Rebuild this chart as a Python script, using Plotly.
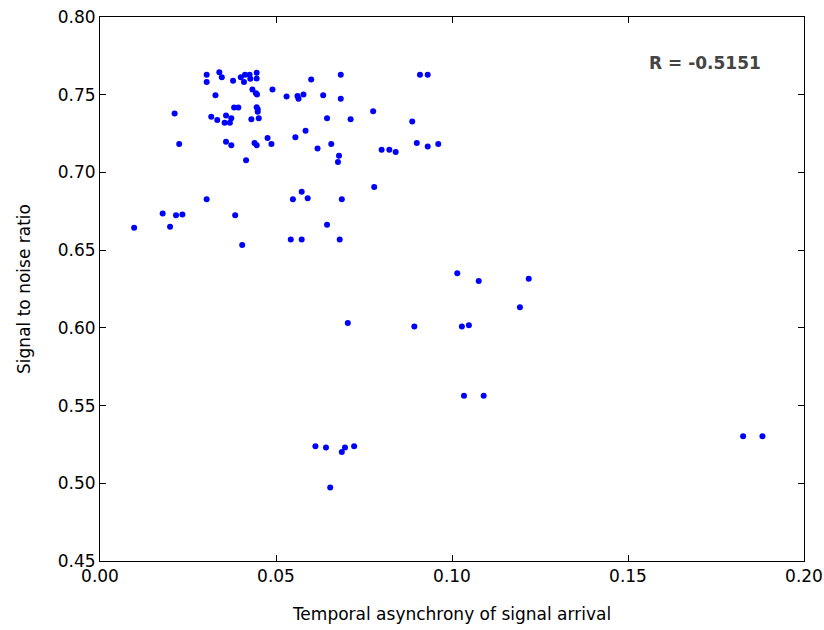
import plotly.graph_objects as go

asynchrony = [
    0.0303, 0.0303, 0.0339, 0.0346, 0.0328, 0.0378, 0.0400, 0.0412, 0.0409, 0.0425,
    0.0427, 0.0445, 0.0445, 0.0433, 0.0443, 0.0446, 0.0490, 0.0530, 0.0561, 0.0564,
    0.0578, 0.0600, 0.0684, 0.0634, 0.0684, 0.0776, 0.0909, 0.0931, 0.0212, 0.0316,
    0.0358, 0.0333, 0.0354, 0.0369, 0.0373, 0.0381, 0.0393, 0.0430, 0.0445, 0.0448,
    0.0448, 0.0451, 0.0645, 0.0712, 0.0887, 0.0584, 0.0225, 0.0358, 0.0373, 0.0439,
    0.0445, 0.0476, 0.0487, 0.0555, 0.0618, 0.0657, 0.0800, 0.0822, 0.0840, 0.0900,
    0.0931, 0.0961, 0.0415, 0.0679, 0.0676, 0.0779, 0.0303, 0.0573, 0.0548, 0.0590,
    0.0687, 0.0178, 0.0216, 0.0234, 0.0384, 0.0097, 0.0199, 0.0645, 0.0404, 0.0542,
    0.0573, 0.0681, 0.1015, 0.1076, 0.1218, 0.1193, 0.0704, 0.0893, 0.1028, 0.1048,
    0.1034, 0.1090, 0.0612, 0.0642, 0.0687, 0.0696, 0.0722, 0.0654, 0.1827, 0.1882,
]
snr = [
    0.7629, 0.7582, 0.7644, 0.7613, 0.7497, 0.7590, 0.7613, 0.7629, 0.7582, 0.7629,
    0.7603, 0.7642, 0.7605, 0.7533, 0.7510, 0.7502, 0.7533, 0.7489, 0.7492, 0.7474,
    0.7502, 0.7598, 0.7629, 0.7497, 0.7474, 0.7394, 0.7629, 0.7629, 0.7379, 0.7358,
    0.7366, 0.7337, 0.7319, 0.7319, 0.7348, 0.7417, 0.7417, 0.7342, 0.7420, 0.7407,
    0.7391, 0.7348, 0.7348, 0.7342, 0.7327, 0.7268, 0.7183, 0.7198, 0.7175, 0.7190,
    0.7175, 0.7221, 0.7183, 0.7226, 0.7154, 0.7183, 0.7146, 0.7146, 0.7131, 0.7190,
    0.7167, 0.7183, 0.7079, 0.7108, 0.7067, 0.6907, 0.6827, 0.6876, 0.6827, 0.6834,
    0.6827, 0.6736, 0.6724, 0.6729, 0.6724, 0.6644, 0.6651, 0.6664, 0.6533, 0.6569,
    0.6569, 0.6569, 0.6352, 0.6301, 0.6316, 0.6133, 0.6032, 0.6009, 0.6009, 0.6017,
    0.5563, 0.5563, 0.5238, 0.5230, 0.5202, 0.5230, 0.5238, 0.4973, 0.5303, 0.5303,
]
x_ticks = [0.00, 0.05, 0.10, 0.15, 0.20]
y_ticks = [0.45, 0.50, 0.55, 0.60, 0.65, 0.70, 0.75, 0.80]
annotation_text = "R = -0.5151"

font_family = "DejaVu Sans"

fig = go.Figure()
fig.add_trace(go.Scatter(
    x=asynchrony, y=snr, mode="markers",
    marker=dict(color="#0000ff", size=6, line=dict(width=0)),
    showlegend=False,
))

axis_common = dict(
    showline=True, linecolor="black", linewidth=1, mirror="ticks",
    ticks="inside", ticklen=6, tickcolor="black", showgrid=False,
    zeroline=False, automargin=False,
    tickfont=dict(family=font_family, size=17, color="black"),
)

fig.update_xaxes(
    range=[0, 0.2], tickvals=x_ticks, ticktext=[f"{v:.2f}" for v in x_ticks],
    title=dict(text="Temporal asynchrony of signal arrival",
               font=dict(family=font_family, size=17, color="black"), standoff=22),
    **axis_common,
)
fig.update_yaxes(
    range=[0.45, 0.80], tickvals=y_ticks, ticktext=[f"{v:.2f}" for v in y_ticks],
    title=dict(text="Signal to noise ratio",
               font=dict(family=font_family, size=17, color="black"), standoff=22),
    **axis_common,
)

fig.add_annotation(
    x=0.172, y=0.7704, xref="x", yref="y", text="<b>" + annotation_text + "</b>",
    showarrow=False, font=dict(family=font_family, size=17, color="#444444"),
)

fig.update_layout(
    width=824, height=630,
    margin=dict(l=100, r=20, t=17, b=69),
    plot_bgcolor="white", paper_bgcolor="white",
)

fig.write_html("out.html", config={"displayModeBar": False},
               post_script="document.body.style.margin='0';")
